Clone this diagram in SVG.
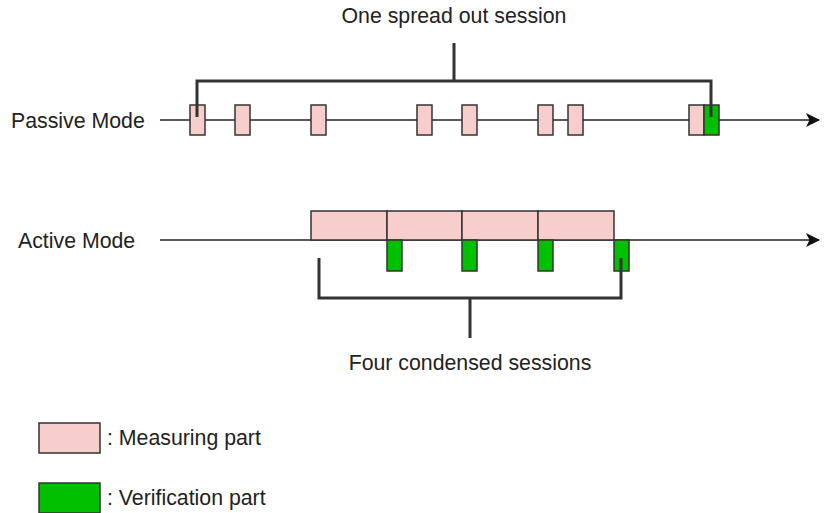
<svg xmlns="http://www.w3.org/2000/svg" width="824" height="513" viewBox="0 0 824 513">
<defs>
<style>
.t{font-family:"Liberation Sans",Arial,sans-serif;font-size:21.3px;fill:#222}
.m{fill:#f8cecc;stroke:#333;stroke-width:1.5}
.v{fill:#00c000;stroke:#333;stroke-width:1.5}
.ax{stroke:#222;stroke-width:1.5;fill:none}
.br{stroke:#333;stroke-width:3;fill:none}
</style>
<marker id="arr" viewBox="0 0 14 14" refX="13" refY="7" markerWidth="14" markerHeight="14" markerUnits="userSpaceOnUse" orient="auto">
<path d="M0,0 L14,7 L0,14 L3.5,7 Z" fill="#111"/>
</marker>
</defs>
<rect width="824" height="513" fill="#fff"/>
<g id="connectors">
<line class="ax" x1="160" y1="120" x2="819" y2="120" marker-end="url(#arr)"/>
<line class="ax" x1="160" y1="240" x2="819" y2="240" marker-end="url(#arr)"/>
</g>
<g id="passive">
<text class="t" x="11" y="128">Passive Mode</text>
<rect class="m" x="190" y="105" width="15" height="30"/>
<rect class="m" x="235" y="105" width="15" height="30"/>
<rect class="m" x="311" y="105" width="15" height="30"/>
<rect class="m" x="417" y="105" width="15" height="30"/>
<rect class="m" x="462" y="105" width="15" height="30"/>
<rect class="m" x="538" y="105" width="15" height="30"/>
<rect class="m" x="568" y="105" width="15" height="30"/>
<rect class="m" x="689" y="105" width="15" height="30"/>
<rect class="v" x="704" y="105" width="15" height="30"/>
</g>
<g id="bracket-top">
<path class="br" d="M197,117 V81 H711 V117"/>
<line class="br" x1="454" y1="43" x2="454" y2="81"/>
<text class="t" x="454" y="23" text-anchor="middle">One spread out session</text>
</g>
<g id="active">
<text class="t" x="18" y="248">Active Mode</text>
<rect class="m" x="311" y="211" width="76" height="29"/>
<rect class="m" x="387" y="211" width="75" height="29"/>
<rect class="m" x="462" y="211" width="76" height="29"/>
<rect class="m" x="538" y="211" width="76" height="29"/>
<rect class="v" x="387" y="240" width="15" height="31"/>
<rect class="v" x="462" y="240" width="15" height="31"/>
<rect class="v" x="538" y="240" width="15" height="31"/>
<rect class="v" x="614" y="240" width="15" height="31"/>
</g>
<g id="bracket-bottom">
<path class="br" d="M319,258 V298 H621 V258"/>
<line class="br" x1="470" y1="298" x2="470" y2="338"/>
<text class="t" x="470" y="370" text-anchor="middle">Four condensed sessions</text>
</g>
<g id="legend">
<rect class="m" x="39" y="423" width="61" height="30"/>
<text class="t" x="107" y="445">: Measuring part</text>
<rect class="v" x="39" y="483" width="61" height="30"/>
<text class="t" x="107" y="505">: Verification part</text>
</g>
</svg>
